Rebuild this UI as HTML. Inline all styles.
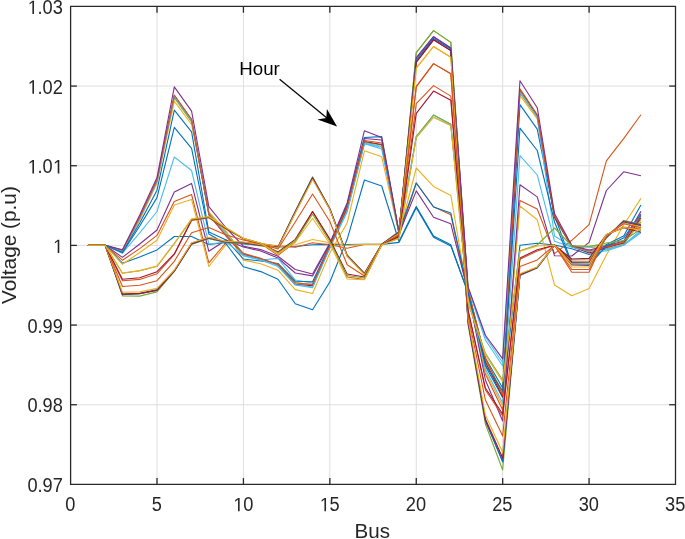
<!DOCTYPE html>
<html><head><meta charset="utf-8"><style>
html,body{margin:0;padding:0;background:#fff;}
svg{display:block;filter:blur(0.35px);}
text{font-family:"Liberation Sans",sans-serif;}
</style></head><body>
<svg width="685" height="539" viewBox="0 0 685 539">
<rect width="685" height="539" fill="#fff"/>
<g stroke="#dedede" stroke-width="1" fill="none">
<line x1="157.01" y1="6.4" x2="157.01" y2="484.4"/>
<line x1="243.43" y1="6.4" x2="243.43" y2="484.4"/>
<line x1="329.84" y1="6.4" x2="329.84" y2="484.4"/>
<line x1="416.26" y1="6.4" x2="416.26" y2="484.4"/>
<line x1="502.67" y1="6.4" x2="502.67" y2="484.4"/>
<line x1="589.09" y1="6.4" x2="589.09" y2="484.4"/>
<line x1="70.6" y1="404.73" x2="675.5" y2="404.73"/>
<line x1="70.6" y1="325.07" x2="675.5" y2="325.07"/>
<line x1="70.6" y1="245.40" x2="675.5" y2="245.40"/>
<line x1="70.6" y1="165.73" x2="675.5" y2="165.73"/>
<line x1="70.6" y1="86.07" x2="675.5" y2="86.07"/>
</g>
<g fill="none" stroke-width="1.1" stroke-linejoin="round">
<polyline points="87.88,245.30 105.17,245.30 122.45,263.20 139.73,256.90 157.01,249.90 174.30,236.50 191.58,236.50 208.86,244.50 226.15,242.50 243.43,244.00 260.71,245.20 277.99,247.00 295.28,246.50 312.56,244.70 329.84,244.40 347.13,244.60 364.41,244.40 381.69,244.40 398.97,242.40 416.26,207.70 433.54,237.20 450.82,245.90 468.11,293.00 485.39,366.00 502.67,397.40 519.95,245.20 537.24,243.20 554.52,245.00 571.80,248.80 589.09,254.50 606.37,248.80 623.65,245.00 640.93,216.00" stroke="#0072BD"/>
<polyline points="87.88,245.30 105.17,245.30 122.45,260.20 139.73,248.60 157.01,235.40 174.30,201.40 191.58,194.50 208.86,262.80 226.15,242.50 243.43,242.50 260.71,243.50 277.99,246.00 295.28,247.30 312.56,242.80 329.84,244.70 347.13,248.20 364.41,244.50 381.69,244.50 398.97,236.00 416.26,183.00 433.54,206.80 450.82,214.80 468.11,294.00 485.39,374.00 502.67,410.00 519.95,200.50 537.24,209.00 554.52,253.60 571.80,240.30 589.09,224.70 606.37,160.80 623.65,138.60 640.93,114.80" stroke="#D95319"/>
<polyline points="87.88,245.30 105.17,245.30 122.45,264.30 139.73,252.50 157.01,240.20 174.30,205.10 191.58,199.40 208.86,266.50 226.15,244.30 243.43,243.00 260.71,243.50 277.99,246.50 295.28,244.70 312.56,239.50 329.84,242.80 347.13,245.30 364.41,244.40 381.69,244.40 398.97,235.00 416.26,168.00 433.54,186.40 450.82,195.40 468.11,296.00 485.39,372.00 502.67,406.00 519.95,206.00 537.24,219.80 554.52,285.00 571.80,295.80 589.09,288.60 606.37,255.00 623.65,225.00 640.93,198.40" stroke="#EDB120"/>
<polyline points="87.88,245.30 105.17,245.30 122.45,257.40 139.73,244.00 157.01,230.00 174.30,192.00 191.58,183.40 208.86,251.30 226.15,240.00 243.43,247.00 260.71,251.00 277.99,258.00 295.28,273.00 312.56,275.90 329.84,244.00 347.13,205.00 364.41,138.50 381.69,140.00 398.97,234.00 416.26,190.90 433.54,217.20 450.82,223.80 468.11,292.00 485.39,380.00 502.67,421.00 519.95,184.80 537.24,196.90 554.52,255.80 571.80,256.00 589.09,242.40 606.37,190.50 623.65,171.80 640.93,175.70" stroke="#7E2F8E"/>
<polyline points="87.88,245.30 105.17,245.30 122.45,250.80 139.73,218.00 157.01,181.00 174.30,96.70 191.58,120.80 208.86,213.00 226.15,234.00 243.43,255.60 260.71,260.00 277.99,258.40 295.28,280.00 312.56,283.00 329.84,247.00 347.13,210.00 364.41,143.70 381.69,147.00 398.97,233.00 416.26,60.00 433.54,38.40 450.82,49.10 468.11,288.00 485.39,336.80 502.67,362.80 519.95,91.30 537.24,116.50 554.52,218.00 571.80,247.00 589.09,247.30 606.37,249.00 623.65,245.00 640.93,232.90" stroke="#4DBEEE"/>
<polyline points="87.88,245.30 105.17,245.30 122.45,251.30 139.73,219.00 157.01,182.00 174.30,97.80 191.58,122.00 208.86,212.00 226.15,232.00 243.43,254.00 260.71,259.00 277.99,265.00 295.28,282.50 312.56,285.00 329.84,247.50 347.13,209.00 364.41,142.50 381.69,145.00 398.97,233.00 416.26,52.60 433.54,30.60 450.82,42.40 468.11,291.00 485.39,360.00 502.67,392.00 519.95,93.00 537.24,117.50 554.52,217.20 571.80,245.80 589.09,246.50 606.37,245.00 623.65,244.00 640.93,222.00" stroke="#77AC30"/>
<polyline points="87.88,245.30 105.17,245.30 122.45,251.80 139.73,220.00 157.01,183.00 174.30,101.20 191.58,124.50 208.86,212.10 226.15,231.00 243.43,260.10 260.71,263.70 277.99,270.20 295.28,289.60 312.56,293.50 329.84,253.00 347.13,223.00 364.41,150.80 381.69,156.80 398.97,233.50 416.26,68.10 433.54,46.50 450.82,57.30 468.11,292.00 485.39,362.00 502.67,394.00 519.95,95.40 537.24,119.00 554.52,217.50 571.80,246.50 589.09,246.00 606.37,248.00 623.65,243.00 640.93,220.00" stroke="#EDB120"/>
<polyline points="87.88,245.30 105.17,245.30 122.45,252.30 139.73,223.00 157.01,190.20 174.30,110.10 191.58,131.90 208.86,232.00 226.15,240.00 243.43,259.00 260.71,261.00 277.99,263.50 295.28,281.20 312.56,281.80 329.84,245.00 347.13,205.00 364.41,137.50 381.69,136.60 398.97,232.00 416.26,183.00 433.54,207.00 450.82,213.10 468.11,291.00 485.39,358.00 502.67,388.00 519.95,104.60 537.24,129.10 554.52,215.40 571.80,263.50 589.09,264.50 606.37,244.50 623.65,236.10 640.93,205.00" stroke="#0072BD"/>
<polyline points="87.88,245.30 105.17,245.30 122.45,253.20 139.73,232.80 157.01,211.50 174.30,157.00 191.58,170.50 208.86,244.00 226.15,242.00 243.43,255.60 260.71,260.00 277.99,266.50 295.28,285.00 312.56,287.70 329.84,248.00 347.13,212.00 364.41,143.70 381.69,148.90 398.97,233.00 416.26,136.70 433.54,115.00 450.82,124.20 468.11,294.00 485.39,369.00 502.67,403.00 519.95,155.60 537.24,175.00 554.52,241.30 571.80,247.30 589.09,252.00 606.37,251.00 623.65,245.20 640.93,232.00" stroke="#4DBEEE"/>
<polyline points="87.88,245.30 105.17,245.30 122.45,250.60 139.73,217.50 157.01,180.50 174.30,95.50 191.58,119.80 208.86,215.00 226.15,236.00 243.43,254.50 260.71,258.80 277.99,265.00 295.28,284.40 312.56,285.70 329.84,246.50 347.13,208.00 364.41,141.50 381.69,144.50 398.97,232.50 416.26,62.20 433.54,39.80 450.82,50.60 468.11,291.00 485.39,362.00 502.67,397.00 519.95,89.50 537.24,115.50 554.52,217.00 571.80,246.50 589.09,253.00 606.37,247.50 623.65,243.00 640.93,218.00" stroke="#A2142F"/>
<polyline points="87.88,245.30 105.17,245.30 122.45,251.00 139.73,218.50 157.01,181.50 174.30,96.20 191.58,120.30 208.86,213.50 226.15,234.00 243.43,255.00 260.71,259.50 277.99,265.60 295.28,284.60 312.56,287.00 329.84,247.50 347.13,211.00 364.41,143.00 381.69,146.50 398.97,233.00 416.26,137.50 433.54,117.20 450.82,125.50 468.11,288.50 485.39,340.00 502.67,366.00 519.95,91.80 537.24,117.00 554.52,236.00 571.80,247.00 589.09,251.50 606.37,250.00 623.65,245.00 640.93,230.00" stroke="#4DBEEE"/>
<polyline points="87.88,245.30 105.17,245.30 122.45,250.30 139.73,217.00 157.01,180.00 174.30,95.00 191.58,119.30 208.86,214.00 226.15,236.00 243.43,253.40 260.71,258.40 277.99,264.20 295.28,283.00 312.56,284.40 329.84,246.00 347.13,207.00 364.41,140.50 381.69,143.00 398.97,232.50 416.26,86.70 433.54,63.60 450.82,73.80 468.11,290.00 485.39,358.00 502.67,395.00 519.95,88.90 537.24,114.80 554.52,216.00 571.80,246.00 589.09,251.00 606.37,247.00 623.65,242.00 640.93,215.00" stroke="#D95319"/>
<polyline points="87.88,245.30 105.17,245.30 122.45,249.80 139.73,215.00 157.01,177.60 174.30,86.90 191.58,111.10 208.86,206.60 226.15,228.00 243.43,246.20 260.71,249.60 277.99,256.20 295.28,269.50 312.56,274.00 329.84,243.00 347.13,203.00 364.41,130.70 381.69,137.50 398.97,232.00 416.26,57.80 433.54,36.70 450.82,48.00 468.11,287.00 485.39,335.20 502.67,358.90 519.95,80.70 537.24,107.70 554.52,213.50 571.80,245.50 589.09,250.00 606.37,246.00 623.65,241.00 640.93,211.40" stroke="#7E2F8E"/>
<polyline points="87.88,245.30 105.17,245.30 122.45,252.80 139.73,226.00 157.01,197.60 174.30,127.40 191.58,148.30 208.86,234.00 226.15,244.00 243.43,266.80 260.71,271.60 277.99,279.20 295.28,303.80 312.56,309.70 329.84,282.00 347.13,239.30 364.41,180.00 381.69,186.00 398.97,241.50 416.26,206.60 433.54,236.10 450.82,244.80 468.11,293.00 485.39,365.00 502.67,391.00 519.95,128.10 537.24,150.50 554.52,222.00 571.80,264.50 589.09,265.50 606.37,246.00 623.65,238.00 640.93,214.00" stroke="#0072BD"/>
<polyline points="87.88,245.30 105.17,245.30 122.45,295.90 139.73,296.10 157.01,291.90 174.30,271.50 191.58,244.40 208.86,238.60 226.15,242.60 243.43,243.20 260.71,246.00 277.99,247.00 295.28,211.00 312.56,176.70 329.84,208.50 347.13,255.00 364.41,273.20 381.69,244.20 398.97,231.50 416.26,52.60 433.54,30.60 450.82,42.40 468.11,325.00 485.39,424.00 502.67,470.00 519.95,275.50 537.24,268.00 554.52,245.20 571.80,260.00 589.09,259.80 606.37,238.00 623.65,220.50 640.93,224.40" stroke="#77AC30"/>
<polyline points="87.88,245.30 105.17,245.30 122.45,294.60 139.73,293.80 157.01,290.40 174.30,271.20 191.58,244.00 208.86,238.20 226.15,242.30 243.43,242.90 260.71,245.50 277.99,247.20 295.28,211.50 312.56,177.50 329.84,208.80 347.13,255.30 364.41,273.50 381.69,244.30 398.97,232.00 416.26,57.80 433.54,36.70 450.82,48.00 468.11,323.00 485.39,421.00 502.67,461.00 519.95,275.20 537.24,267.70 554.52,245.20 571.80,265.00 589.09,265.00 606.37,237.50 623.65,221.00 640.93,224.80" stroke="#7E2F8E"/>
<polyline points="87.88,245.30 105.17,245.30 122.45,294.30 139.73,293.60 157.01,289.50 174.30,271.00 191.58,243.60 208.86,237.80 226.15,242.00 243.43,242.60 260.71,245.20 277.99,247.40 295.28,212.00 312.56,178.00 329.84,209.00 347.13,255.60 364.41,273.80 381.69,244.40 398.97,232.50 416.26,60.00 433.54,38.40 450.82,49.10 468.11,322.00 485.39,420.00 502.67,462.00 519.95,274.80 537.24,267.40 554.52,245.20 571.80,262.50 589.09,263.00 606.37,237.00 623.65,222.00 640.93,225.20" stroke="#0072BD"/>
<polyline points="87.88,245.30 105.17,245.30 122.45,294.00 139.73,293.40 157.01,290.20 174.30,270.80 191.58,243.20 208.86,237.50 226.15,241.70 243.43,242.30 260.71,245.00 277.99,247.60 295.28,212.50 312.56,178.50 329.84,209.20 347.13,255.90 364.41,274.10 381.69,244.50 398.97,233.00 416.26,62.20 433.54,39.80 450.82,50.60 468.11,321.00 485.39,419.00 502.67,458.00 519.95,274.40 537.24,267.20 554.52,245.20 571.80,262.00 589.09,262.00 606.37,236.50 623.65,222.50 640.93,225.70" stroke="#A2142F"/>
<polyline points="87.88,245.30 105.17,245.30 122.45,292.20 139.73,291.90 157.01,288.40 174.30,270.00 191.58,242.70 208.86,237.20 226.15,241.40 243.43,242.00 260.71,244.60 277.99,248.00 295.28,213.00 312.56,179.50 329.84,209.60 347.13,256.30 364.41,274.50 381.69,244.60 398.97,233.50 416.26,68.10 433.54,46.50 450.82,57.30 468.11,319.00 485.39,415.00 502.67,452.20 519.95,273.80 537.24,267.00 554.52,245.20 571.80,267.00 589.09,267.00 606.37,236.00 623.65,223.00 640.93,226.50" stroke="#EDB120"/>
<polyline points="87.88,245.30 105.17,245.30 122.45,286.50 139.73,285.30 157.01,280.70 174.30,261.30 191.58,232.70 208.86,227.50 226.15,235.00 243.43,240.00 260.71,244.00 277.99,249.00 295.28,222.00 312.56,194.00 329.84,221.50 347.13,264.80 364.41,276.00 381.69,244.70 398.97,235.00 416.26,86.70 433.54,63.60 450.82,73.80 468.11,315.00 485.39,400.00 502.67,435.90 519.95,266.40 537.24,259.90 554.52,245.20 571.80,269.50 589.09,269.50 606.37,235.50 623.65,223.80 640.93,227.70" stroke="#D95319"/>
<polyline points="87.88,245.30 105.17,245.30 122.45,280.80 139.73,279.40 157.01,273.80 174.30,254.50 191.58,220.40 208.86,217.70 226.15,229.00 243.43,238.80 260.71,243.60 277.99,255.40 295.28,242.00 312.56,211.60 329.84,239.00 347.13,277.00 364.41,279.50 381.69,244.90 398.97,237.00 416.26,103.70 433.54,85.60 450.82,96.10 468.11,311.00 485.39,390.00 502.67,416.00 519.95,259.20 537.24,251.00 554.52,245.20 571.80,272.30 589.09,272.30 606.37,235.00 623.65,227.00 640.93,229.00" stroke="#D95319"/>
<polyline points="87.88,245.30 105.17,245.30 122.45,279.30 139.73,277.70 157.01,271.70 174.30,253.90 191.58,220.00 208.86,217.20 226.15,228.50 243.43,238.60 260.71,243.40 277.99,252.00 295.28,239.40 312.56,211.60 329.84,239.50 347.13,274.00 364.41,277.00 381.69,244.80 398.97,236.50 416.26,113.30 433.54,91.10 450.82,100.30 468.11,310.00 485.39,388.00 502.67,414.00 519.95,258.00 537.24,249.80 554.52,245.20 571.80,259.00 589.09,258.40 606.37,234.50 623.65,227.70 640.93,232.20" stroke="#A2142F"/>
<polyline points="87.88,245.30 105.17,245.30 122.45,273.20 139.73,270.80 157.01,266.30 174.30,243.60 191.58,219.50 208.86,216.80 226.15,228.00 243.43,238.40 260.71,243.20 277.99,253.00 295.28,240.80 312.56,214.20 329.84,241.50 347.13,275.50 364.41,278.00 381.69,245.00 398.97,238.00 416.26,136.70 433.54,115.00 450.82,124.20 468.11,303.00 485.39,353.30 502.67,380.00 519.95,250.80 537.24,245.00 554.52,228.00 571.80,246.00 589.09,246.50 606.37,243.00 623.65,240.60 640.93,229.00" stroke="#77AC30"/>
<polyline points="87.88,245.30 105.17,245.30 122.45,273.00 139.73,270.60 157.01,266.10 174.30,243.40 191.58,218.80 208.86,216.50 226.15,227.60 243.43,238.40 260.71,243.20 277.99,254.00 295.28,242.20 312.56,218.30 329.84,243.70 347.13,279.00 364.41,279.70 381.69,245.10 398.97,238.50 416.26,137.50 433.54,117.20 450.82,125.50 468.11,302.00 485.39,355.00 502.67,381.70 519.95,251.30 537.24,246.00 554.52,245.20 571.80,264.00 589.09,264.00 606.37,234.50 623.65,227.50 640.93,230.00" stroke="#EDB120"/>
</g>
<g stroke="#2a2a2a" stroke-width="1.3" fill="none" stroke-linejoin="miter">
<path d="M70.6,6.4 H675.5 V484.4 H70.6 Z"/>
<line x1="157.01" y1="484.4" x2="157.01" y2="478.09999999999997"/>
<line x1="157.01" y1="6.4" x2="157.01" y2="12.7"/>
<line x1="243.43" y1="484.4" x2="243.43" y2="478.09999999999997"/>
<line x1="243.43" y1="6.4" x2="243.43" y2="12.7"/>
<line x1="329.84" y1="484.4" x2="329.84" y2="478.09999999999997"/>
<line x1="329.84" y1="6.4" x2="329.84" y2="12.7"/>
<line x1="416.26" y1="484.4" x2="416.26" y2="478.09999999999997"/>
<line x1="416.26" y1="6.4" x2="416.26" y2="12.7"/>
<line x1="502.67" y1="484.4" x2="502.67" y2="478.09999999999997"/>
<line x1="502.67" y1="6.4" x2="502.67" y2="12.7"/>
<line x1="589.09" y1="484.4" x2="589.09" y2="478.09999999999997"/>
<line x1="589.09" y1="6.4" x2="589.09" y2="12.7"/>
<line x1="70.6" y1="404.73" x2="76.89999999999999" y2="404.73"/>
<line x1="675.5" y1="404.73" x2="669.2" y2="404.73"/>
<line x1="70.6" y1="325.07" x2="76.89999999999999" y2="325.07"/>
<line x1="675.5" y1="325.07" x2="669.2" y2="325.07"/>
<line x1="70.6" y1="245.40" x2="76.89999999999999" y2="245.40"/>
<line x1="675.5" y1="245.40" x2="669.2" y2="245.40"/>
<line x1="70.6" y1="165.73" x2="76.89999999999999" y2="165.73"/>
<line x1="675.5" y1="165.73" x2="669.2" y2="165.73"/>
<line x1="70.6" y1="86.07" x2="76.89999999999999" y2="86.07"/>
<line x1="675.5" y1="86.07" x2="669.2" y2="86.07"/>
</g>
<g fill="#262626" font-size="18.2px">
<text transform="translate(65.24,511.30) scale(1,1.07)">0</text>
<text transform="translate(151.65,511.30) scale(1,1.07)">5</text>
<polygon points="238.03,511.30 239.64,511.30 239.64,497.90 238.16,497.90 235.20,500.08 235.20,501.70 238.03,499.54"/>
<text transform="translate(243.13,511.30) scale(1,1.07)">0</text>
<polygon points="324.44,511.30 326.05,511.30 326.05,497.90 324.58,497.90 321.62,500.08 321.62,501.70 324.44,499.54"/>
<text transform="translate(329.54,511.30) scale(1,1.07)">5</text>
<text transform="translate(405.84,511.30) scale(1,1.07)">20</text>
<text transform="translate(492.25,511.30) scale(1,1.07)">25</text>
<text transform="translate(578.66,511.30) scale(1,1.07)">30</text>
<text transform="translate(665.08,511.30) scale(1,1.07)">35</text>
<text transform="translate(27.38,492.10) scale(1,1.07)">0.97</text>
<text transform="translate(27.38,412.43) scale(1,1.07)">0.98</text>
<text transform="translate(27.38,332.77) scale(1,1.07)">0.99</text>
<polygon points="57.70,253.10 59.31,253.10 59.31,239.70 57.83,239.70 54.87,241.88 54.87,243.50 57.70,241.34"/>
<polygon points="32.40,173.43 34.01,173.43 34.01,160.04 32.53,160.04 29.57,162.21 29.57,163.83 32.40,161.67"/>
<text transform="translate(37.50,173.43) scale(1,1.07)">.0</text>
<polygon points="57.70,173.43 59.31,173.43 59.31,160.04 57.83,160.04 54.87,162.21 54.87,163.83 57.70,161.67"/>
<polygon points="32.40,93.77 34.01,93.77 34.01,80.37 32.53,80.37 29.57,82.55 29.57,84.16 32.40,82.00"/>
<text transform="translate(37.50,93.77) scale(1,1.07)">.02</text>
<polygon points="32.40,14.10 34.01,14.10 34.01,0.70 32.53,0.70 29.57,2.88 29.57,4.50 32.40,2.34"/>
<text transform="translate(37.50,14.10) scale(1,1.07)">.03</text>
</g>
<text x="372.3" y="537.9" text-anchor="middle" font-size="20.6px" fill="#262626">Bus</text>
<text transform="translate(16.3,245.1) rotate(-90)" text-anchor="middle" font-size="20.8px" fill="#262626">Voltage (p.u)</text>
<text x="239.3" y="74.9" font-size="18.7px" fill="#000">Hour</text>
<line x1="279.6" y1="79.3" x2="330" y2="120.5" stroke="#000" stroke-width="1.2"/>
<path d="M337.1,126.4 L317.4,119.4 L326.3,117.9 L326.9,108.9 Z" fill="#000"/>
</svg>
</body></html>
